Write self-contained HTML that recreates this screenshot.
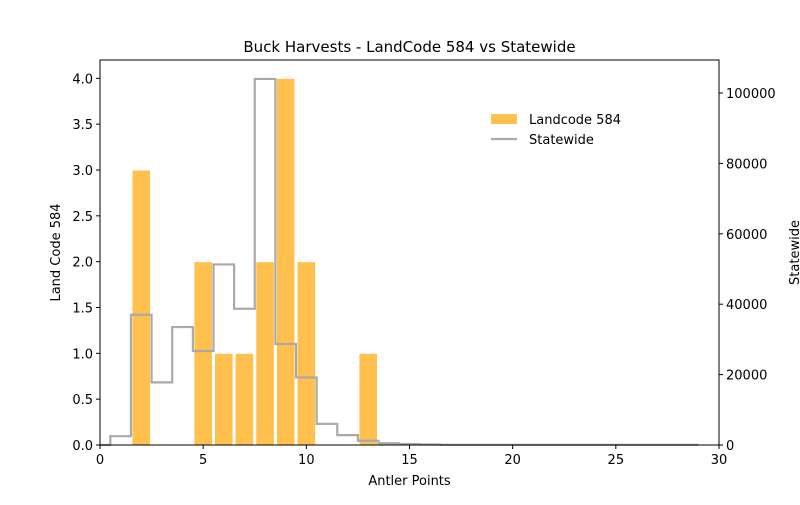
<!DOCTYPE html>
<html><head><meta charset="utf-8"><style>
body{margin:0;background:#fff;}
svg text{font-family:"DejaVu Sans","Liberation Sans",sans-serif;fill:#000;}
</style></head><body>
<svg id="chart" width="800" height="500">
<text x="409.5" y="52" font-size="15" text-anchor="middle">Buck Harvests - LandCode 584 vs Statewide</text>
<g id="bars"></g>
<path id="line" fill="none" stroke="#a9a9a9" stroke-width="2.2"/>
<rect x="100" y="60" width="619" height="385" fill="none" stroke="#000" stroke-width="1"/>
<g id="ticks" font-size="13"></g>
<text x="409.5" y="485" font-size="13" text-anchor="middle">Antler Points</text>
<text transform="translate(60,252.5) rotate(-90)" font-size="13" text-anchor="middle">Land Code 584</text>
<text transform="translate(799,252.5) rotate(-90)" font-size="13" text-anchor="middle">Statewide</text>
<g>
<rect x="491" y="114" width="26" height="10" fill="#ffc04d"/>
<text x="529" y="124" font-size="13">Landcode 584</text>
<line x1="491" y1="139" x2="517" y2="139" stroke="#a9a9a9" stroke-width="2.2"/>
<text x="529" y="144" font-size="13">Statewide</text>
</g>
</svg>
<script>
const barPoints=[2,5,6,7,8,9,10,13];
const barCounts=[3,2,1,1,2,4,2,1];
const statePoints=[0,1,2,3,4,5,6,7,8,9,10,11,12,13,14,15,16,17,18,19,20,21,22,23,24,25,26,27,28,29];
const stateCounts=[0,2500,37000,17800,33500,26700,51300,38700,104000,28700,19200,6000,2800,1200,500,250,150,50,50,50,50,50,50,50,50,50,50,50,50,50];
const xTicks=[0,5,10,15,20,25,30];
const leftTicks=[0,0.5,1,1.5,2,2.5,3,3.5,4];
const rightTicks=[0,20000,40000,60000,80000,100000];
const L=100,R=719,T=60,B=445;
const xs=v=>L+(v/30)*(R-L);
const yl=v=>B-(v/4.2)*(B-T);
const yr=v=>B-(v/109375)*(B-T);
const NS="http://www.w3.org/2000/svg";
const bars=document.getElementById('bars');
barPoints.forEach((p,i)=>{
 const r=document.createElementNS(NS,'rect');
 r.setAttribute('x',xs(p-0.45));r.setAttribute('width',xs(0.9)-xs(0));
 r.setAttribute('y',yl(barCounts[i]));r.setAttribute('height',B-yl(barCounts[i]));
 r.setAttribute('fill','#ffc04d');r.setAttribute('stroke','#fff');r.setAttribute('stroke-width','1');
 
 
 bars.appendChild(r);
});
let d='';
statePoints.forEach((p,i)=>{
 const x0=xs(Math.max(0,p-0.5)),x1=xs(Math.min(29,p+0.5)),y=yr(stateCounts[i]);
 d+=(i===0?'M':'L')+x0+','+y+'L'+x1+','+y;
});
document.getElementById('line').setAttribute('d',d);
const g=document.getElementById('ticks');
function add(tag,attrs,txt){const e=document.createElementNS(NS,tag);for(const k in attrs)e.setAttribute(k,attrs[k]);if(txt!==undefined)e.textContent=txt;g.appendChild(e);return e;}
xTicks.forEach(v=>{
 const t=add('line',{x1:xs(v),x2:xs(v),y1:B,y2:B+4,stroke:'#000'});
 
 
 const l=add('text',{x:xs(v),y:B+19,'text-anchor':'middle'},String(v));
 
 
});
leftTicks.forEach(v=>{
 const t=add('line',{x1:L-4,x2:L,y1:yl(v),y2:yl(v),stroke:'#000'});
 
 
 const l=add('text',{x:L-7,y:yl(v)+5,'text-anchor':'end'},v.toFixed(1));
 
 
});
rightTicks.forEach(v=>{
 const t=add('line',{x1:R,x2:R+4,y1:yr(v),y2:yr(v),stroke:'#000'});
 
 
 const l=add('text',{x:R+7,y:yr(v)+5,'text-anchor':'start'},String(v));
 
 
});
</script>
</body></html>
